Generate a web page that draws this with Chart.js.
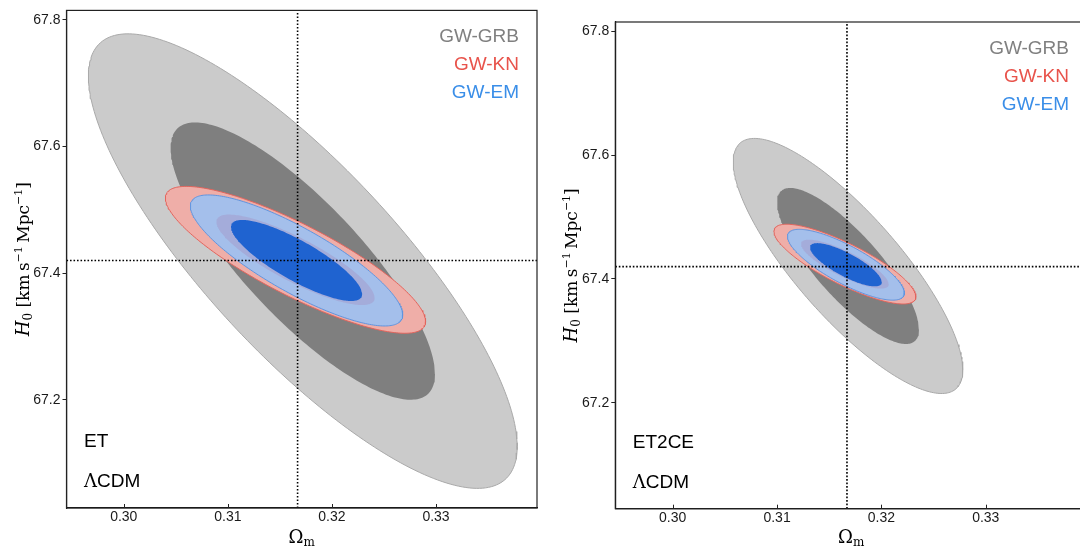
<!DOCTYPE html>
<html>
<head>
<meta charset="utf-8">
<script src="https://cdn.jsdelivr.net/npm/chart.js@4.4.0/dist/chart.umd.min.js"></script>
<style>
  html, body { margin: 0; padding: 0; background: #fff; }
  #wrap { position: relative; width: 1080px; height: 548px; overflow: hidden; }
  canvas { position: absolute; top: 0; }
  #left { left: 0; }
  #right { left: 548px; }
</style>
</head>
<body>
<div id="wrap">
  <canvas id="left" width="540" height="548"></canvas>
  <canvas id="right" width="540" height="548"></canvas>
</div>
<script>
// --- DATA ---
const probes = ['GW-GRB', 'GW-KN', 'GW-EM'];
const fidOm = 0.3167;
const fidH0 = 67.42;
const xTicks = [0.30, 0.31, 0.32, 0.33];
const yTicks = [67.2, 67.4, 67.6, 67.8];
const xRange = [0.2945, 0.3397];
const yRange = [67.029, 67.815];

// ET: contour centre, half extent of the 68% / 95% contours in each parameter, correlation
const etOm    = [0.3172, 0.3165, 0.3166];
const etH0    = [67.419, 67.421, 67.420];
const etdOm68 = [0.0127, 0.0076, 0.0063];
const etdOm95 = [0.0206, 0.0125, 0.0102];
const etdH068 = [0.219, 0.0715, 0.064];
const etdH095 = [0.359, 0.116, 0.1035];
const etRho   = [-0.815, -0.84, -0.83];

// ET2CE
const ceOm    = [0.3168, 0.3165, 0.3166];
const ceH0    = [67.421, 67.424, 67.423];
const cedOm68 = [0.0068, 0.0042, 0.00344];
const cedOm95 = [0.0110, 0.0068, 0.0056];
const cedH068 = [0.126, 0.0395, 0.0349];
const cedH095 = [0.206, 0.0644, 0.0572];
const ceRho   = [-0.815, -0.82, -0.80];

// --- STYLE ---
const fill95 = ['#cbcbcb', '#efaea8', '#a4bfeb'];
const edge95 = ['#a9a9a9', '#e4645c', '#5f95e0'];
const fill68 = ['#7f7f7f', '#a4acda', '#1f63d0'];
const legendColors = ['#808080', '#e8534b', '#3a8ee8'];
const SANS = '"Liberation Sans", Arial, sans-serif';
const SERIF = '"DejaVu Serif", "Liberation Serif", serif';

// outline of a gaussian contour from its centre, half extents and correlation
function contour(cx, cy, dOm, dH0, rho) {
    const phi = Math.acos(rho);
    const pts = [];
    for (let i = 0; i <= 240; i++) {
        const t = 2 * Math.PI * i / 240;
        pts.push({ x: cx + dOm * Math.cos(t), y: cy + dH0 * Math.cos(t + phi) });
    }
    return pts;
}

function shape(pts, fill, edge, width, order) {
    return { data: pts, backgroundColor: fill, borderColor: edge, borderWidth: width,
             fill: 'shape', pointRadius: 0, tension: 0, order: order };
}

function panelDatasets(cOm, cH0, dOm68, dOm95, dH068, dH095, rho) {
    const c95 = i => contour(cOm[i], cH0[i], dOm95[i], dH095[i], rho[i]);
    const c68 = i => contour(cOm[i], cH0[i], dOm68[i], dH068[i], rho[i]);
    const dotted = { borderColor: '#000', borderWidth: 1.6, borderDash: [1.6, 1.9],
                     pointRadius: 0, fill: false, order: 1 };
    return [
        shape(c95(0), fill95[0], edge95[0], 1, 10),
        shape(c68(0), fill68[0], 'transparent', 0, 9),
        shape(c95(1), fill95[1], edge95[1], 1, 8),
        shape(c95(2), fill95[2], edge95[2], 1, 7),
        shape(c68(1), fill68[1], 'transparent', 0, 6),
        shape(c68(2), fill68[2], 'transparent', 0, 5),
        Object.assign({ data: [{ x: fidOm, y: yRange[0] }, { x: fidOm, y: yRange[1] }] }, dotted),
        Object.assign({ data: [{ x: xRange[0], y: fidH0 }, { x: xRange[1], y: fidH0 }] }, dotted)
    ];
}

// draws a run of text pieces (sub/superscripts), centred on x
function rich(ctx, parts, x, y) {
    let w = 0;
    parts.forEach(p => { ctx.font = p.f; w += ctx.measureText(p.t).width; });
    let px = x - w / 2;
    parts.forEach(p => {
        ctx.font = p.f;
        ctx.fillText(p.t, px, y + (p.dy || 0));
        px += ctx.measureText(p.t).width;
    });
}

const panelText = {
    id: 'panelText',
    afterDraw(chart, args, opts) {
        const ctx = chart.ctx, a = chart.chartArea;
        ctx.save();
        // frame
        ctx.strokeStyle = '#222';
        ctx.lineWidth = 1.2;
        ctx.strokeRect(a.left, a.top, a.right - a.left, a.bottom - a.top);
        // x ticks point inwards
        ctx.lineWidth = 1;
        xTicks.forEach(v => {
            const px = Math.round(chart.scales.x.getPixelForValue(v)) + 0.5;
            ctx.beginPath(); ctx.moveTo(px, a.bottom); ctx.lineTo(px, a.bottom - 4); ctx.stroke();
        });
        // legend text
        ctx.textBaseline = 'alphabetic';
        ctx.textAlign = 'right';
        ctx.font = '19px ' + SANS;
        probes.forEach((p, i) => {
            ctx.fillStyle = legendColors[i];
            ctx.fillText(p, a.right - 18, a.top + 32 + 28 * i);
        });
        // detector / model label
        ctx.textAlign = 'left';
        ctx.fillStyle = '#000';
        ctx.fillText(opts.label, a.left + 17.5, a.bottom - 61);
        ctx.font = '18px ' + SERIF;
        ctx.fillText('\u039B', a.left + 17.5, a.bottom - 21);
        const lw = ctx.measureText('\u039B').width;
        ctx.font = '19px ' + SANS;
        ctx.fillText('CDM', a.left + 17.5 + lw, a.bottom - 21);
        // x title
        rich(ctx, [
            { t: '\u03A9', f: '18px ' + SERIF },
            { t: 'm', f: '12px ' + SERIF, dy: 3 }
        ], (a.left + a.right) / 2, chart.height - 5);
        // y title
        ctx.translate(29, (a.top + a.bottom) / 2);
        ctx.rotate(-Math.PI / 2);
        rich(ctx, [
            { t: 'H', f: 'italic 18px ' + SERIF },
            { t: '0', f: '12px ' + SERIF, dy: 3 },
            { t: ' [km\u2009s', f: '17px ' + SERIF },
            { t: '\u22121', f: '11px ' + SERIF, dy: -7 },
            { t: '\u2009Mpc', f: '17px ' + SERIF },
            { t: '\u22121', f: '11px ' + SERIF, dy: -7 },
            { t: ']', f: '17px ' + SERIF }
        ], 0, 0);
        ctx.restore();
    }
};

function makePanel(id, label, datasets, pad, yWidth, xHeight) {
    new Chart(document.getElementById(id), {
        type: 'line',
        data: { datasets: datasets },
        options: {
            responsive: false,
            animation: false,
            events: [],
            layout: { padding: pad },
            plugins: { legend: { display: false }, tooltip: { enabled: false }, panelText: { label: label } },
            scales: {
                x: {
                    type: 'linear', min: xRange[0], max: xRange[1],
                    afterBuildTicks: s => { s.ticks = xTicks.map(v => ({ value: v })); },
                    afterFit: s => { s.height = xHeight; },
                    grid: { drawOnChartArea: false, drawTicks: false },
                    border: { color: '#111', width: 1.2 },
                    ticks: { padding: 1, color: '#1a1a1a', font: { size: 14, family: SANS },
                             maxRotation: 0, callback: v => v.toFixed(2) }
                },
                y: {
                    type: 'linear', min: yRange[0], max: yRange[1],
                    afterBuildTicks: s => { s.ticks = yTicks.map(v => ({ value: v })); },
                    afterFit: s => { s.width = yWidth; },
                    grid: { drawOnChartArea: false, drawTicks: true, tickLength: 4, color: '#222' },
                    border: { color: '#111', width: 1.2 },
                    ticks: { padding: 2, color: '#1a1a1a', font: { size: 14, family: SANS },
                             callback: v => v.toFixed(1) }
                }
            }
        },
        plugins: [panelText]
    });
}

makePanel('left', 'ET', panelDatasets(etOm, etH0, etdOm68, etdOm95, etdH068, etdH095, etRho),
          { top: 9.3, right: 3, left: 0, bottom: 0 }, 66.5, 40);
makePanel('right', 'ET2CE', panelDatasets(ceOm, ceH0, cedOm68, cedOm95, cedH068, cedH095, ceRho),
          { top: 22, right: 1, left: 0, bottom: 0 }, 67.3, 39.3);
</script>
</body>
</html>
